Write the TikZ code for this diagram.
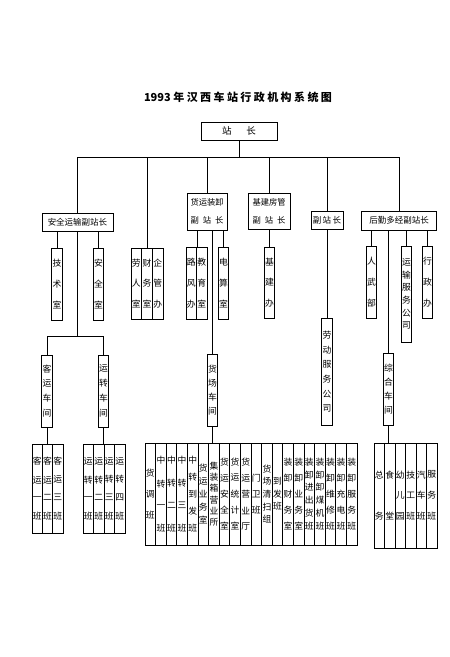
\documentclass[tikz,border=0pt]{standalone}
\usepackage{fontspec}
\setmainfont{Noto Sans CJK SC}
\newfontfamily\titlefont{Noto Sans CJK SC}[LetterSpace=22]
\usepackage{tikz}
\usetikzlibrary{positioning,calc}

% stack characters from top to bottom, spread over a given height
\newcommand\spread[2]{\vbox to #1{\hsize=10pt\parindent=0pt\parskip=0pt%
  \baselineskip=0pt\lineskip=0pt\centering\def\\{\par\vfill}#2\par}}

\tikzset{
  hbox/.style={draw, inner sep=0pt, font=\fontsize{8.5}{9}\selectfont},
  vcol/.style={draw, inner sep=0pt, minimum width=10.5pt, minimum height=#1,
    font=\fontsize{8.8}{9}\selectfont},
}

\begin{document}
\begin{tikzpicture}[x=1pt, y=-1pt, line width=0.7pt]
  \useasboundingbox (0,0) rectangle (450,657);
  % draw the title
  \node[font=\bfseries\fontsize{11}{13}\selectfont] (title) at (238,97)
    {1993 {\titlefont 年汉西车站行政机构系统图}};
  % draw the station master
  \node[hbox, minimum width=76pt, minimum height=18pt,
    font=\fontsize{9.5}{11}\selectfont] (zz) at (239,131) {站\hspace{15pt}长};
  \coordinate (bus) at (239,157);
  % draw the deputies
  \node[hbox, minimum width=71pt, minimum height=18pt] (aq) at (77.5,222) {安全运输副站长};
  \foreach \t [count=\i] in {{劳\\人\\室},{财\\务\\室},{企\\管\\办}}
    \node[vcol=71pt, minimum width=10.7pt] (lr\i) at (125.65+10.7*\i,283.5) {\spread{49pt}{\t}};
  \node[hbox, minimum width=40pt, minimum height=37pt, text width=33pt, align=center,
    font=\fontsize{8.3}{18}\selectfont] (hy) at (207,211.5) {货运装卸\\副\hfill 站\hfill 长};
  \node[hbox, minimum width=42pt, minimum height=36pt, text width=33pt, align=center,
    font=\fontsize{8.3}{18}\selectfont] (jj) at (269,211) {基建房管\\副\hfill 站\hfill 长};
  \node[hbox, minimum width=32pt, minimum height=18pt] (fz) at (327,220) {副\,站\,长};
  \node[hbox, minimum width=75pt, minimum height=19pt] (hq) at (399,220.5) {后勤多经副站长};
  % draw the offices
  \node[vcol=72pt] (js) at (57,284) {\spread{49pt}{技\\术\\室}};
  \node[vcol=72pt] (aqs) at (98.5,284) {\spread{49pt}{安\\全\\室}};
  \foreach \n/\t [count=\i] in {lf/{路\\风\\办},jy/{教\\育\\室}}
    \node[vcol=72pt] (\n) at (180.75+10.5*\i,283) {\spread{49pt}{\t}};
  \node[vcol=72pt] (ds) at (223.5,283) {\spread{49pt}{电\\算\\室}};
  \node[vcol=71pt] (jjb) at (269.5,282.5) {\spread{49pt}{基\\建\\办}};
  \node[vcol=107pt] (ldfw) at (327,371.5) {\spread{80pt}{劳\\动\\服\\务\\公\\司}};
  \node[vcol=72pt] (rw) at (371.5,282) {\spread{49pt}{人\\武\\部}};
  \node[vcol=96pt] (ysfw) at (406.5,294) {\spread{70pt}{运\\输\\服\\务\\公\\司}};
  \node[vcol=72pt] (xz) at (427.5,282) {\spread{49pt}{行\\政\\办}};
  % draw the workshops
  \coordinate (kybar) at (78,336);
  \node[vcol=72pt] (ky) at (47,391) {\spread{52pt}{客\\运\\车\\间}};
  \node[vcol=72pt] (yz) at (103.5,391) {\spread{52pt}{运\\转\\车\\间}};
  \node[vcol=72pt] (hc) at (212.5,390) {\spread{50pt}{货\\场\\车\\间}};
  \node[vcol=72pt] (zh) at (388.5,389) {\spread{50pt}{综\\合\\车\\间}};
  % draw the teams
  \foreach \t [count=\i] in {{客\\运\\一\\班},{客\\运\\二\\班},{客\\运\\三\\班}}
    \node[vcol=89pt, minimum width=10.33pt] (kb\i) at (26.83+10.33*\i,488.5) {\spread{62pt}{\t}};
  \foreach \t [count=\i] in {{运\\转\\一\\班},{运\\转\\二\\班},{运\\转\\三\\班},{运\\转\\四\\班}}
    \node[vcol=89pt] (yb\i) at (77.75+10.5*\i,488.5) {\spread{62pt}{\t}};
  \foreach \h/\t [count=\i] in {50/{货\\调\\班},76/{中\\转\\一\\班},76/{中\\转\\二\\班},
      76/{中\\转\\三\\班},76/{中\\转\\到\\发\\班},60/{货\\运\\业\\务\\室},
      64/{集\\装\\箱\\营\\业\\所},72/{货\\运\\安\\全\\室},72/{货\\运\\统\\计\\室},
      72/{货\\运\\营\\业\\厅},40/{门\\卫\\班},58/{货\\场\\清\\扫\\组},32/{到\\发\\班},
      72/{装\\卸\\财\\务\\室},72/{装\\卸\\业\\务\\室},72/{装\\卸\\进\\出\\货\\班},
      72/{装\\卸\\卸\\煤\\机\\班},72/{装\\卸\\维\\修\\班},72/{装\\卸\\充\\电\\班},
      72/{装\\卸\\服\\务\\班}}
    \node[vcol=102pt, minimum width=10.6pt] (hb\i) at (139.7+10.6*\i,494) {\spread{\h pt}{\t}};
  \foreach \t [count=\i] in {{总\\务},{食\\堂},{幼\\儿\\园},{技\\工\\班},{汽\\车\\班},{服\\务\\班}}
    \node[vcol=105pt] (qb\i) at (368.75+10.5*\i,495.5) {\spread{49pt}{\t}};
  % draw the connectors
  \draw (zz.south) -- (zz.south |- bus);
  \draw (aq.north) -- (aq.north |- bus) -- (hq.north |- bus) -- (hq.north);
  \foreach \n in {lr2,hy,jj,fz}
    \draw (\n.north) -- (\n.north |- bus);
  \foreach \n in {js,aqs}
    \draw (\n.north) -- (\n.north |- aq.south);
  \draw (hy.south -| lf.north east) -- (lf.north east);
  \foreach \n in {ds,hc}
    \draw (\n.north) -- (\n.north |- hy.south);
  \draw (jjb.north) -- (jjb.north |- jj.south);
  \draw (ldfw.north) -- (ldfw.north |- fz.south);
  \foreach \n in {rw,ysfw,xz,zh}
    \draw (\n.north) -- (\n.north |- hq.south);
  \draw (aq.south) -- (aq.south |- kybar);
  \draw (ky.north) -- (ky.north |- kybar) -- (yz.north |- kybar) -- (yz.north);
  \draw (ky.south) -- (ky.south |- kb1.north);
  \draw (yz.south) -- (yz.south |- yb1.north);
  \draw (hc.south) -- (hc.south |- hb1.north);
  \draw (zh.south) -- (zh.south |- qb1.north);
\end{tikzpicture}
\end{document}
